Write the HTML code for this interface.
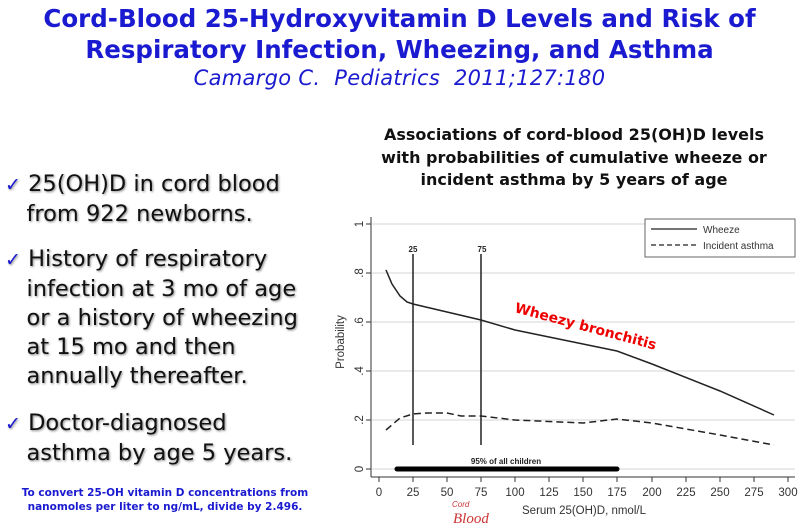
<!DOCTYPE html>
<html><head><meta charset="utf-8"><style>
body{margin:0;width:799px;height:527px;background:#fff;position:relative;overflow:hidden;font-family:"Liberation Sans",sans-serif}
.t{position:absolute;left:0;width:799px;text-align:center;color:#1a1ad0;font-weight:bold;font-size:24.5px;line-height:31px;top:3px;font-family:"DejaVu Sans",sans-serif}
.c{position:absolute;left:0;width:799px;text-align:center;color:#1a1ad0;font-style:italic;font-size:21px;top:66px;letter-spacing:0.3px;font-family:"DejaVu Sans",sans-serif}
.b{position:absolute;left:5px;font-family:"DejaVu Sans",sans-serif;font-size:22.5px;line-height:29px;color:#111;text-shadow:1px 1px 2px #888}
.b span{color:#1a1ad0;font-size:19px}
.n{position:absolute;left:0;width:330px;text-align:center;color:#1a1ad0;font-weight:bold;font-size:10.5px;line-height:14px;top:486px;font-family:"DejaVu Sans",sans-serif}
.h{position:absolute;left:334px;width:480px;text-align:center;font-weight:bold;font-size:16px;line-height:22.5px;top:124px;color:#111;font-family:"DejaVu Sans",sans-serif}
</style></head><body>
<div class="t">Cord-Blood 25-Hydroxyvitamin D Levels and Risk of<br>Respiratory Infection, Wheezing, and Asthma</div>
<div class="c">Camargo C.&nbsp; Pediatrics&nbsp; 2011;127:180</div>
<div class="b" style="top:170px"><span>✓</span> 25(OH)D in cord blood<br>&nbsp;&nbsp;&nbsp;from 922 newborns.</div>
<div class="b" style="top:245px"><span>✓</span> History of respiratory<br>&nbsp;&nbsp;&nbsp;infection at 3 mo of age<br>&nbsp;&nbsp;&nbsp;or a history of wheezing<br>&nbsp;&nbsp;&nbsp;at 15 mo and then<br>&nbsp;&nbsp;&nbsp;annually thereafter.</div>
<div class="b" style="top:409px"><span>✓</span> Doctor-diagnosed<br>&nbsp;&nbsp;&nbsp;asthma by age 5 years.</div>
<div class="n">To convert 25-OH vitamin D concentrations from<br>nanomoles per liter to ng/mL, divide by 2.496.</div>
<div class="h">Associations of cord-blood 25(OH)D levels<br>with probabilities of cumulative wheeze or<br>incident asthma by 5 years of age</div>
<svg width="799" height="527" style="position:absolute;left:0;top:0" font-family="Liberation Sans,sans-serif">
<g stroke="#e4e4e4" stroke-width="1.5">
<line x1="372" x2="795" y1="224" y2="224"/><line x1="372" x2="795" y1="273" y2="273"/><line x1="372" x2="795" y1="322" y2="322"/><line x1="372" x2="795" y1="371" y2="371"/><line x1="372" x2="795" y1="420" y2="420"/><line x1="372" x2="795" y1="469" y2="469"/>
</g>
<g stroke="#333" stroke-width="1">
<line x1="371" y1="217" x2="371" y2="477"/><line x1="371" y1="477" x2="795" y2="477"/>
<line x1="366" x2="371" y1="224" y2="224"/><line x1="366" x2="371" y1="273" y2="273"/><line x1="366" x2="371" y1="322" y2="322"/><line x1="366" x2="371" y1="371" y2="371"/><line x1="366" x2="371" y1="420" y2="420"/><line x1="366" x2="371" y1="469" y2="469"/>
<line x1="379" x2="379" y1="477" y2="482"/><line x1="413" x2="413" y1="477" y2="482"/><line x1="447" x2="447" y1="477" y2="482"/><line x1="481" x2="481" y1="477" y2="482"/><line x1="515" x2="515" y1="477" y2="482"/><line x1="549" x2="549" y1="477" y2="482"/><line x1="583" x2="583" y1="477" y2="482"/><line x1="617" x2="617" y1="477" y2="482"/><line x1="652" x2="652" y1="477" y2="482"/><line x1="686" x2="686" y1="477" y2="482"/><line x1="720" x2="720" y1="477" y2="482"/><line x1="754" x2="754" y1="477" y2="482"/><line x1="788" x2="788" y1="477" y2="482"/>
</g>
<g font-size="11.5" fill="#333" text-anchor="middle">
<text x="379" y="496">0</text><text x="413" y="496">25</text><text x="447" y="496">50</text><text x="481" y="496">75</text><text x="515" y="496">100</text><text x="549" y="496">125</text><text x="583" y="496">150</text><text x="617" y="496">175</text><text x="652" y="496">200</text><text x="686" y="496">225</text><text x="720" y="496">250</text><text x="754" y="496">275</text><text x="788" y="496">300</text>
<text x="584" y="514">Serum 25(OH)D, nmol/L</text>
<g transform="rotate(-90)"><text x="-224" y="363">1</text><text x="-273" y="363">.8</text><text x="-322" y="363">.6</text><text x="-371" y="363">.4</text><text x="-420" y="363">.2</text><text x="-469" y="363">0</text><text x="-342" y="344">Probability</text></g>
</g>
<g stroke="#222" stroke-width="1.5" fill="none">
<line x1="413" y1="254" x2="413" y2="445"/><line x1="481" y1="254" x2="481" y2="445"/>
<polyline points="386,270 392,284 400,296 407,302 413,304 447,312 481,320 515,330 583,344 617,351 652,364 720,391 774,415"/>
<polyline stroke-dasharray="7,4" points="386,430 400,418 413,414 427,413 447,413 461,416 481,416 515,420 583,423 617,419 652,423 720,435 774,445"/>
</g>
<g font-size="8" font-weight="bold" fill="#222" text-anchor="middle"><text x="413" y="252">25</text><text x="482" y="252">75</text><text x="506" y="464">95% of all children</text></g>
<line x1="397" y1="469" x2="617" y2="469" stroke="#000" stroke-width="5" stroke-linecap="round"/>
<rect x="645" y="219" width="150" height="38" fill="#fff" stroke="#666"/>
<line x1="651" y1="229" x2="697" y2="229" stroke="#222" stroke-width="1.2"/>
<line x1="651" y1="245" x2="697" y2="245" stroke="#222" stroke-width="1.2" stroke-dasharray="5,3"/>
<g font-size="10" fill="#333"><text x="703" y="233">Wheeze</text><text x="703" y="249">Incident asthma</text></g>
<text x="514" y="312" font-size="14" font-weight="bold" fill="#e00" transform="rotate(15 514 312)" font-family="DejaVu Sans,sans-serif">Wheezy bronchitis</text>
<text x="452" y="507" font-size="8" fill="#c33" font-style="italic">Cord</text>
<text x="453" y="523" font-size="15" fill="#c33" font-style="italic" font-family="Liberation Serif,serif">Blood</text>
</svg>
</body></html>
